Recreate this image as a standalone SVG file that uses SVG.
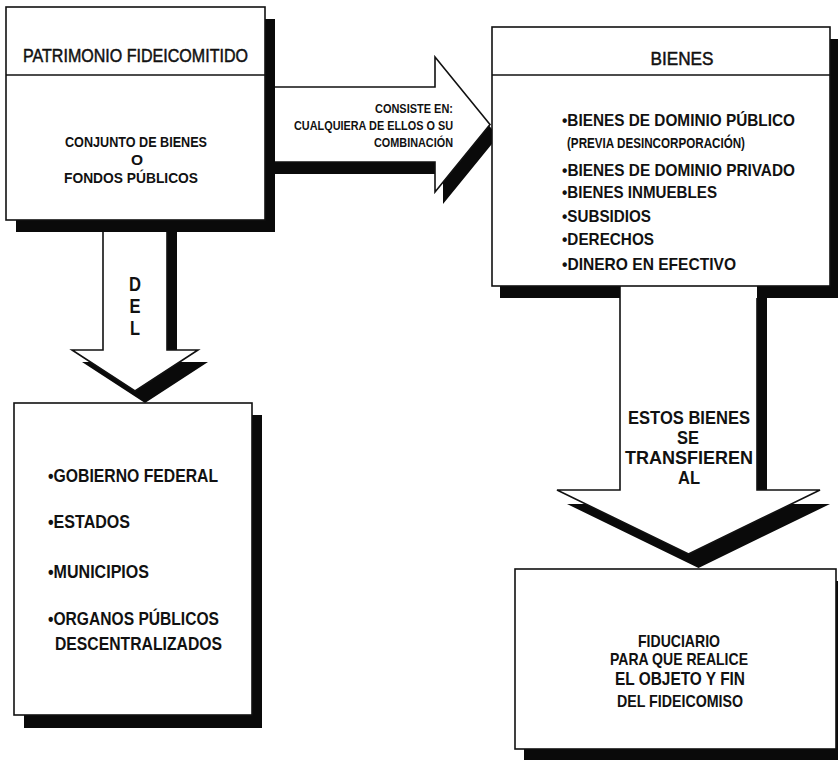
<svg xmlns="http://www.w3.org/2000/svg" width="838" height="760" viewBox="0 0 838 760">
<style>
.box{fill:#fff;stroke:#111;stroke-width:1.6}
.sh{fill:#0a0a0a}
.ln{stroke:#111;stroke-width:1.6;fill:none;stroke-linejoin:miter}
.af{fill:#fff}
text{font-family:"Liberation Sans Narrow","Liberation Sans",Arial,sans-serif;fill:#111;font-weight:bold}
.hd{font-weight:normal;stroke:#111;stroke-width:0.5}
.c{text-anchor:middle}
.r{text-anchor:end}
</style>
<g id="connectors">
  <g id="arrow-consiste">
    <path class="sh" d="M273,99 H443 V69 L498,136.5 L443,204 V174 H273 Z"/>
    <path class="af" d="M273,87 H435 V57 L490,124.5 L435,192 V162 H273 Z"/>
    <path class="ln" d="M275,87 H435 V57 L490,124.5 L435,192 V162 H275"/>
    <text class="r" font-size="12.5" x="453" y="113" textLength="78" lengthAdjust="spacingAndGlyphs">CONSISTE EN:</text>
    <text class="r" font-size="12.5" x="453" y="130" textLength="159" lengthAdjust="spacingAndGlyphs">CUALQUIERA DE ELLOS O SU</text>
    <text class="r" font-size="12.5" x="453" y="147" textLength="79" lengthAdjust="spacingAndGlyphs">COMBINACIÓN</text>
  </g>
  <g id="arrow-del">
    <path class="sh" d="M113,232 H177 V362 H208 L145,403 L82,362 H113 Z"/>
    <path class="af" d="M103,232 H167 V350 H198 L135,391 L72,350 H103 Z"/>
    <path class="ln" d="M103,232 V350 H72 L135,391 L198,350 H167 V232"/>
    <text class="c" font-size="21" x="135" y="291" textLength="12" lengthAdjust="spacingAndGlyphs">D</text>
    <text class="c" font-size="21" x="135" y="313" textLength="11" lengthAdjust="spacingAndGlyphs">E</text>
    <text class="c" font-size="21" x="135" y="335" textLength="10" lengthAdjust="spacingAndGlyphs">L</text>
  </g>
  <g id="arrow-transfieren">
    <path class="sh" d="M630,286 H767 V504 H830 L698.5,568 L567,504 H630 Z"/>
    <path class="af" d="M620,286 H757 V490 H820 L688.5,554 L557,490 H620 Z"/>
    <path class="ln" d="M620,286 V490 H557 L688.5,554 L820,490 H757 V298"/>
    <text class="c" font-size="18" x="689" y="424" textLength="122" lengthAdjust="spacingAndGlyphs">ESTOS BIENES</text>
    <text class="c" font-size="18" x="688" y="444" textLength="22" lengthAdjust="spacingAndGlyphs">SE</text>
    <text class="c" font-size="18" x="689" y="464" textLength="128" lengthAdjust="spacingAndGlyphs">TRANSFIEREN</text>
    <text class="c" font-size="18" x="689" y="484" textLength="22" lengthAdjust="spacingAndGlyphs">AL</text>
  </g>
</g>
<g id="patrimonio">
  <rect class="sh" x="16" y="19" width="259" height="213"/>
  <rect class="box" x="6" y="7" width="259" height="213"/>
  <line class="ln" x1="6" y1="75" x2="265" y2="75"/>
  <text class="c hd" font-size="19" x="135.5" y="62" textLength="225" lengthAdjust="spacingAndGlyphs">PATRIMONIO FIDEICOMITIDO</text>
  <text class="c" font-size="15.5" x="136" y="147" textLength="142" lengthAdjust="spacingAndGlyphs">CONJUNTO DE BIENES</text>
  <text class="c" font-size="15.5" x="137" y="165">O</text>
  <text class="c" font-size="15.5" x="131" y="183" textLength="134" lengthAdjust="spacingAndGlyphs">FONDOS PÚBLICOS</text>
</g>
<g id="bienes">
  <rect class="sh" x="830" y="39" width="8" height="259"/>
  <rect class="sh" x="500" y="286" width="120" height="12"/>
  <rect class="sh" x="757" y="286" width="81" height="12"/>
  <rect class="box" x="492" y="27" width="338" height="259"/>
  <line class="ln" x1="492" y1="75" x2="830" y2="75"/>
  <text class="c hd" font-size="19" x="682" y="65" textLength="63" lengthAdjust="spacingAndGlyphs">BIENES</text>
  <text font-size="17" x="562" y="126" textLength="233" lengthAdjust="spacingAndGlyphs">•BIENES DE DOMINIO PÚBLICO</text>
  <text font-size="15" x="567" y="148" textLength="178" lengthAdjust="spacingAndGlyphs">(PREVIA DESINCORPORACIÓN)</text>
  <text font-size="17" x="562" y="176" textLength="233" lengthAdjust="spacingAndGlyphs">•BIENES DE DOMINIO PRIVADO</text>
  <text font-size="17" x="562" y="198" textLength="155" lengthAdjust="spacingAndGlyphs">•BIENES INMUEBLES</text>
  <text font-size="17" x="562" y="222" textLength="89" lengthAdjust="spacingAndGlyphs">•SUBSIDIOS</text>
  <text font-size="17" x="562" y="245" textLength="92" lengthAdjust="spacingAndGlyphs">•DERECHOS</text>
  <text font-size="17" x="562" y="270" textLength="174" lengthAdjust="spacingAndGlyphs">•DINERO EN EFECTIVO</text>
</g>
<g id="entidades">
  <rect class="sh" x="24" y="415" width="238" height="313"/>
  <rect class="box" x="14" y="403" width="238" height="312"/>
  <text font-size="18" x="48" y="482" textLength="170" lengthAdjust="spacingAndGlyphs">•GOBIERNO FEDERAL</text>
  <text font-size="18" x="48" y="528" textLength="82" lengthAdjust="spacingAndGlyphs">•ESTADOS</text>
  <text font-size="18" x="48" y="578" textLength="101" lengthAdjust="spacingAndGlyphs">•MUNICIPIOS</text>
  <text font-size="18" x="48" y="625" textLength="171" lengthAdjust="spacingAndGlyphs">•ORGANOS PÚBLICOS</text>
  <text font-size="18" x="55" y="650" textLength="167" lengthAdjust="spacingAndGlyphs">DESCENTRALIZADOS</text>
</g>
<g id="fiduciario">
  <rect class="sh" x="524" y="581" width="320" height="180"/>
  <rect class="box" x="515" y="569" width="321" height="180"/>
  <text class="c" font-size="17" x="679" y="647" textLength="82" lengthAdjust="spacingAndGlyphs">FIDUCIARIO</text>
  <text class="c" font-size="17" x="679" y="665" textLength="138" lengthAdjust="spacingAndGlyphs">PARA QUE REALICE</text>
  <text class="c" font-size="19" x="680" y="685" textLength="130" lengthAdjust="spacingAndGlyphs">EL OBJETO Y FIN</text>
  <text class="c" font-size="17" x="680" y="707" textLength="126" lengthAdjust="spacingAndGlyphs">DEL FIDEICOMISO</text>
</g>
</svg>
